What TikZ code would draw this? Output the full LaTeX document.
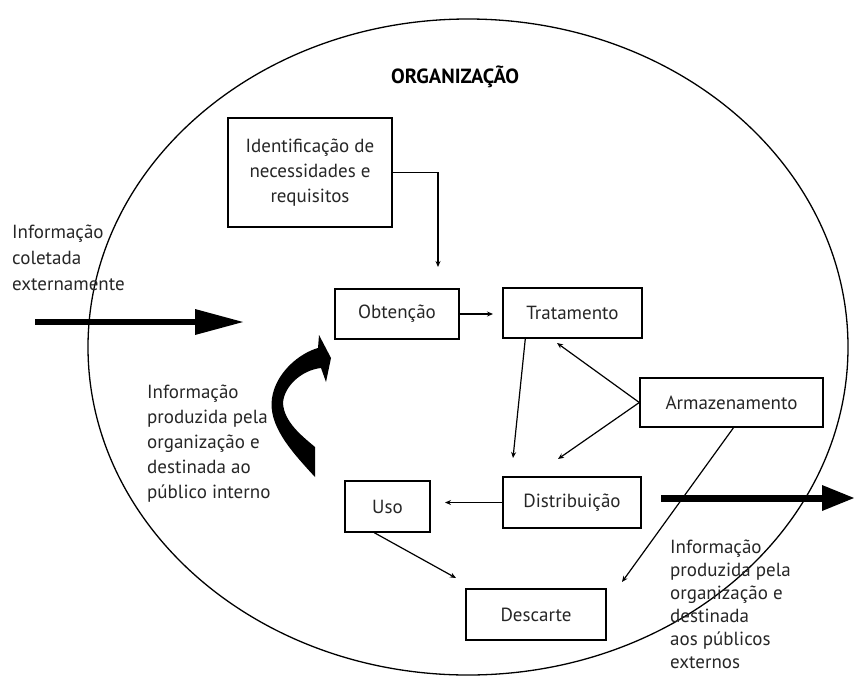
\documentclass[tikz,border=0pt]{standalone}
\usepackage{fontspec}
\setmainfont{PT Sans}
\usetikzlibrary{arrows.meta,calc}
\begin{document}
\begin{tikzpicture}[x=1pt,y=-1pt,
  box/.style={draw,line width=1.4pt,inner sep=0pt,align=center,font=\fontsize{19}{25}\selectfont,text=black!85},
  conn/.style={line width=1.2pt,-{Stealth[length=6pt,width=5pt]}},
  lbl/.style={align=left,inner sep=0pt,anchor=north west,text=black!85},
  bigarrow/.style={fill=black}]
\useasboundingbox (0,0) rectangle (854,678);
% organization ellipse
\draw[line width=1.3pt] (468,347) ellipse [x radius=380, y radius=328];
\node[font=\fontsize{20.5}{24}\selectfont\bfseries] (org) at (455,77) {ORGANIZAÇÃO};
% boxes
\node[box,minimum width=164pt,minimum height=109pt] (ident) at (310,172.5) {Identificação de\\necessidades e\\requisitos};
\node[box,minimum width=124pt,minimum height=50pt] (obt) at (397,314) {Obtenção};
\node[box,minimum width=139pt,minimum height=50pt] (trat) at (572.5,313) {Tratamento};
\node[box,minimum width=183pt,minimum height=49pt] (arm) at (731.5,402.5) {Armazenamento};
\node[box,minimum width=138pt,minimum height=51pt] (dist) at (572,502.5) {Distribuição};
\node[box,minimum width=85pt,minimum height=51pt] (uso) at (387.5,506.5) {Uso};
\node[box,minimum width=140pt,minimum height=51pt] (desc) at (536,614.5) {Descarte};
% free ends
\coordinate (e1) at (438,267);
\coordinate (e2) at (493,314);
\coordinate (e3) at (513,458);
\coordinate (e4) at (557,343);
\coordinate (e5) at (558,459);
\coordinate (e6) at (445,502.5);
\coordinate (e7) at (456,578);
\coordinate (e8) at (622,582);
% connectors
\draw[conn] (ident.east) -| (e1);
\draw[conn] (obt.east) -- (e2);
\draw[conn] ([xshift=23pt]trat.south west) -- (e3);
\draw[conn] (arm.west) -- (e4);
\draw[conn] (arm.west) -- (e5);
\draw[conn] (dist.west) -- (e6);
\draw[conn] ([xshift=30pt]uso.south west) -- (e7);
\draw[conn] ([xshift=2pt]arm.south) -- (e8);
% thick arrows
\coordinate (la) at (35,322);
\coordinate (lb) at (196,322);
\draw[line width=6.5pt] (la) -- (lb);
\fill[bigarrow] (195,309) -- (243,322) -- (195,335) -- cycle;
\coordinate (ra) at (661,498);
\coordinate (rb) at (823,498);
\draw[line width=7pt] (ra) -- (rb);
\fill[bigarrow] (822,485) -- (854,498) -- (822,511) -- cycle;
% curved arrow
\fill[bigarrow] (315,477) .. controls (290,450) and (268,425) .. (272,398)
  .. controls (276,372) and (300,353) .. (318,348) -- (319,335) -- (331,358)
  -- (326,382) -- (321,368) .. controls (302,370) and (284,386) .. (283,403)
  .. controls (284,422) and (302,436) .. (315,447) -- cycle;
% labels
\node[lbl,font=\fontsize{19}{26}\selectfont] (t1) at (12,225) {Informação\\coletada\\externamente};
\node[lbl,font=\fontsize{19}{25}\selectfont] (t2) at (147,385) {Informação\\produzida pela\\organização e\\destinada ao\\público interno};
\node[lbl,font=\fontsize{19}{23}\selectfont] (t3) at (670,540) {Informação\\produzida pela\\organização e\\destinada\\aos públicos\\externos};
\end{tikzpicture}
\end{document}
